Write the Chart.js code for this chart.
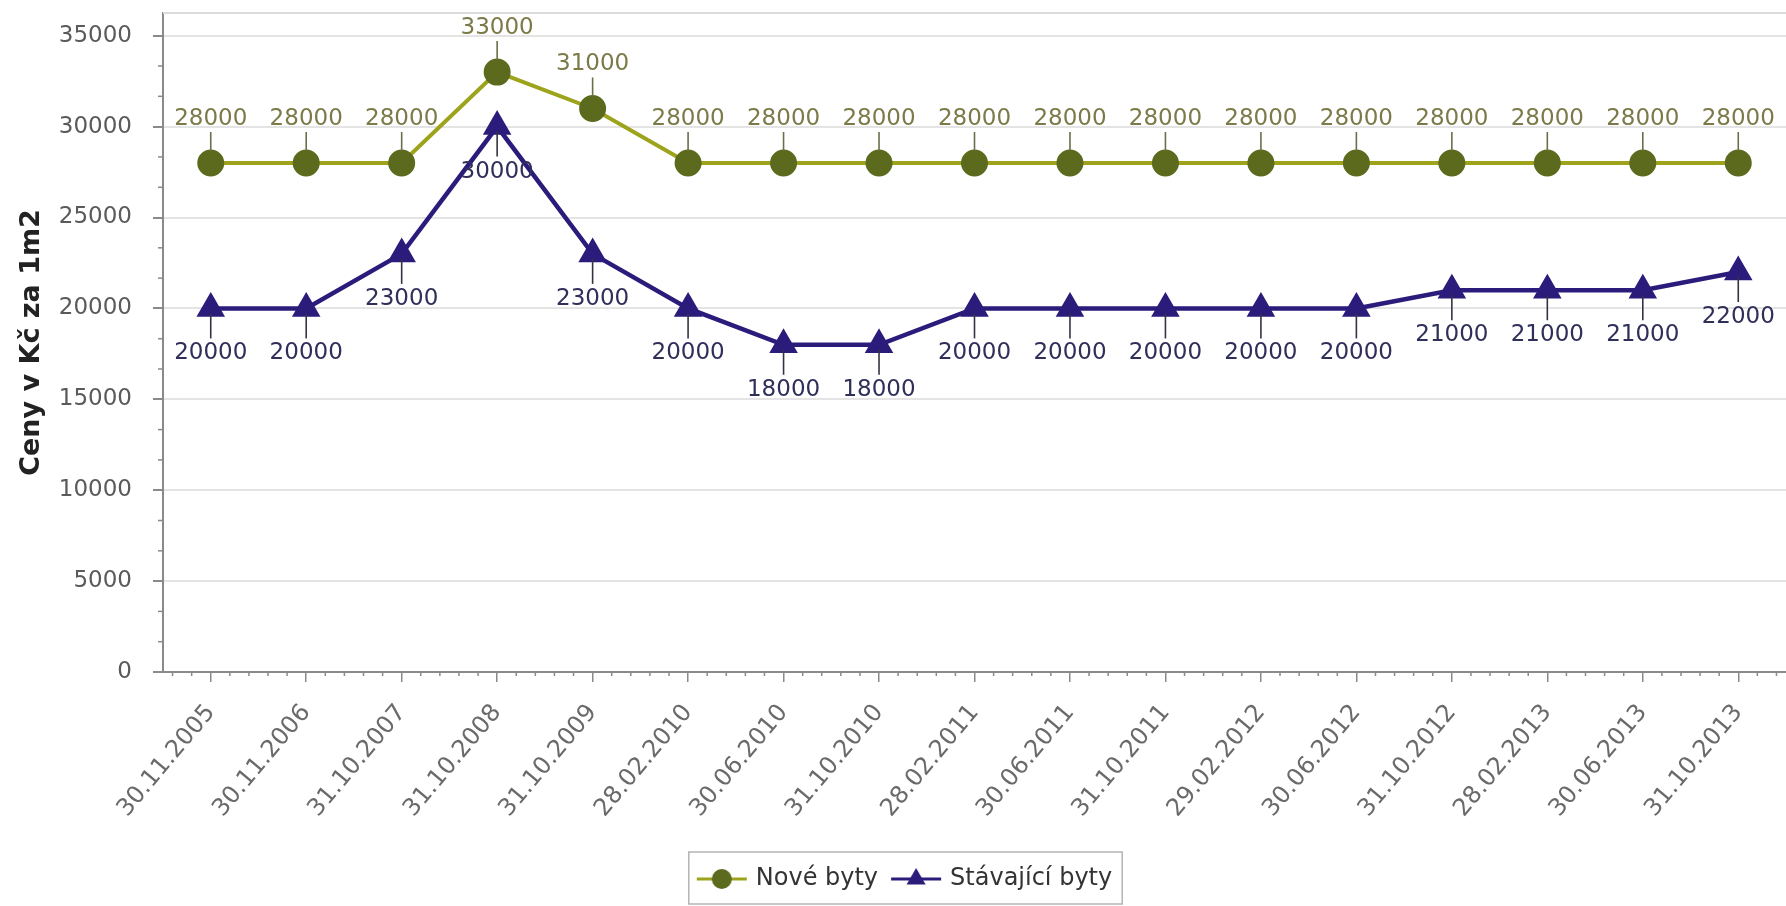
<!DOCTYPE html>
<html>
<head>
<meta charset="utf-8">
<script src="https://cdn.jsdelivr.net/npm/chart.js@4/dist/chart.umd.min.js"></script>
<style>
html,body{margin:0;padding:0;background:#fff;overflow:hidden;}
#wrap{width:1786px;height:906px;position:relative;overflow:hidden;}
canvas{display:block;}
</style>
</head>
<body>
<div id="wrap"><canvas id="c"></canvas></div>
<script>
const categories = ['30.11.2005','30.11.2006','31.10.2007','31.10.2008','31.10.2009','28.02.2010','30.06.2010','31.10.2010','28.02.2011','30.06.2011','31.10.2011','29.02.2012','30.06.2012','31.10.2012','28.02.2013','30.06.2013','31.10.2013'];
const noveByty = [28000,28000,28000,33000,31000,28000,28000,28000,28000,28000,28000,28000,28000,28000,28000,28000,28000];
const stavajiciByty = [20000,20000,23000,30000,23000,20000,18000,18000,20000,20000,20000,20000,20000,21000,21000,21000,22000];
const seriesNames = ['Nové byty','Stávající byty'];
const yTicks = [0,5000,10000,15000,20000,25000,30000,35000];
const yAxisTitle = 'Ceny v Kč za 1m2';

const OLIVE_LINE = '#9ea31c';
const OLIVE_PT = '#5b6a1d';
const OLIVE_TXT = '#7b7a48';
const NAVY = '#2b1c7c';
const NAVY_TXT = '#2f2f5a';
const FONT = "'DejaVu Sans', sans-serif";
const LEGEND_SHIFT = 13;

function legendIcon(kind, color, lineColor){
  const c = document.createElement('canvas');
  c.width = 52; c.height = 26;
  const g = c.getContext('2d');
  g.strokeStyle = lineColor; g.lineWidth = 3;
  g.beginPath(); g.moveTo(1,13); g.lineTo(51,13); g.stroke();
  g.fillStyle = color;
  g.beginPath();
  if (kind === 'circle') { g.arc(26,13,10,0,Math.PI*2); }
  else { const r=11; g.moveTo(26,13-r); g.lineTo(26+r*0.866,13+r*0.5); g.lineTo(26-r*0.866,13+r*0.5); g.closePath(); }
  g.fill();
  return c;
}
const icons = [legendIcon('circle', OLIVE_PT, OLIVE_LINE), legendIcon('triangle', NAVY, NAVY)];

const labelPlugin = {
  id: 'pointLabels',
  afterDatasetsDraw(chart){
    const ctx = chart.ctx;
    ctx.save();
    ctx.font = "23px " + FONT;
    ctx.textAlign = 'center';
    ctx.textBaseline = 'middle';
    chart.data.datasets.forEach((ds, di) => {
      const meta = chart.getDatasetMeta(di);
      const above = di === 0;
      meta.data.forEach((pt, i) => {
        const x = pt.x, y = pt.y;
        ctx.strokeStyle = above ? '#6d6d4a' : '#333344';
        ctx.lineWidth = 1.6;
        ctx.beginPath();
        if (above) { ctx.moveTo(x, y - 31); ctx.lineTo(x, y - 12); }
        else { ctx.moveTo(x, y + 5); ctx.lineTo(x, y + 30); }
        ctx.stroke();
        ctx.fillStyle = above ? OLIVE_TXT : NAVY_TXT;
        ctx.fillText(String(ds.data[i]), x, above ? y - 44 : y + 45);
      });
    });
    ctx.restore();
  }
};

const framePlugin = {
  id: 'frame',
  afterLayout(chart){
    const lg = chart.legend;
    if (!lg) return;
    lg.left += LEGEND_SHIFT; lg.right += LEGEND_SHIFT;
    (lg.legendHitBoxes || []).forEach(b => { b.left += LEGEND_SHIFT; });
  },
  beforeDatasetsDraw(chart){
    const ctx = chart.ctx, a = chart.chartArea;
    ctx.save();
    ctx.strokeStyle = '#dcdcdc'; ctx.lineWidth = 2;
    ctx.beginPath(); ctx.moveTo(a.left, a.top); ctx.lineTo(a.right, a.top); ctx.stroke();
    const xs = chart.scales.x, ys = chart.scales.y;
    ctx.strokeStyle = '#8a8a8a'; ctx.lineWidth = 1.5;
    const n = categories.length;
    for (let k = -2; k < n * 5 - 2; k++) {
      if (k % 5 === 0) continue;
      const px = xs.getPixelForValue(k / 5);
      ctx.beginPath(); ctx.moveTo(px, a.bottom); ctx.lineTo(px, a.bottom + 4); ctx.stroke();
    }
    for (let k = 1; k * 5000/3 < ys.max; k++) {
      if (k % 3 === 0) continue;
      const py = ys.getPixelForValue(k*5000/3);
      ctx.beginPath(); ctx.moveTo(a.left, py); ctx.lineTo(a.left - 5, py); ctx.stroke();
    }
    ctx.restore();
  },
  afterDraw(chart){
    const lg = chart.legend;
    if (!lg || !lg.legendHitBoxes.length) return;
    const hb = lg.legendHitBoxes;
    let minX = Infinity, maxX = -Infinity;
    hb.forEach(b => { minX = Math.min(minX, b.left); maxX = Math.max(maxX, b.left + b.width); });
    const ctx = chart.ctx;
    ctx.save();
    ctx.strokeStyle = '#b4b4b4'; ctx.lineWidth = 1.5;
    ctx.strokeRect(minX - 11, 852, (maxX - minX) + 21, 52);
    ctx.restore();
  }
};

new Chart(document.getElementById('c'), {
  type: 'line',
  data: {
    labels: categories,
    datasets: [
      { label: seriesNames[0], data: noveByty, borderColor: OLIVE_LINE, backgroundColor: OLIVE_PT,
        pointBackgroundColor: OLIVE_PT, pointBorderColor: OLIVE_PT, pointRadius: 11.5, pointStyle: 'circle',
        borderWidth: 4, tension: 0 },
      { label: seriesNames[1], data: stavajiciByty, borderColor: NAVY, backgroundColor: NAVY,
        pointBackgroundColor: NAVY, pointBorderColor: NAVY, pointRadius: 12, pointStyle: 'triangle',
        borderWidth: 4.5, tension: 0 }
    ]
  },
  options: {
    responsive: true,
    maintainAspectRatio: false,
    animation: false,
    layout: { autoPadding: false, padding: { left: 0, right: 0, top: 13, bottom: 5 } },
    plugins: {
      tooltip: { enabled: false },
      legend: {
        position: 'bottom',
        labels: {
          usePointStyle: true,
          pointStyleWidth: 44,
          boxHeight: 24,
          padding: 16,
          color: '#333',
          font: { family: FONT, size: 24 },
          generateLabels(chart){
            return chart.data.datasets.map((ds, i) => ({
              text: ds.label, pointStyle: icons[i], fillStyle: 'transparent',
              strokeStyle: 'transparent', lineWidth: 0, datasetIndex: i, hidden: false, fontColor: '#333'
            }));
          }
        }
      }
    },
    scales: {
      x: {
        offset: true,
        grid: { display: true, drawOnChartArea: false, drawTicks: true, tickLength: 10, tickColor: '#8a8a8a', lineWidth: 1.5 },
        border: { display: true, color: '#8a8a8a', width: 2 },
        ticks: { minRotation: 50, maxRotation: 50, autoSkip: false, padding: 17, color: '#6a6a6a', font: { family: FONT, size: 24 } },
        afterFit(s){ s.height = 179; s.paddingLeft = 0; s.paddingRight = 0; }
      },
      y: {
        min: 0, max: 36250,
        afterBuildTicks(s){ s.ticks = yTicks.map(v => ({ value: v })); },
        grid: { color: '#e4e4e4', lineWidth: 2, tickLength: 10, tickColor: '#8a8a8a' },
        border: { display: true, color: '#8a8a8a', width: 2 },
        ticks: { padding: 21, color: '#5a5a5a', font: { family: FONT, size: 23 }, callback: v => String(v) },
        title: { display: true, text: yAxisTitle, color: '#222', font: { family: FONT, size: 27, weight: 'bold' }, padding: { top: 16, bottom: 0 } },
        afterFit(s){ s.width = 163; s.paddingTop = 0; s.paddingBottom = 0; }
      }
    }
  },
  plugins: [labelPlugin, framePlugin]
});
</script>
</body>
</html>
